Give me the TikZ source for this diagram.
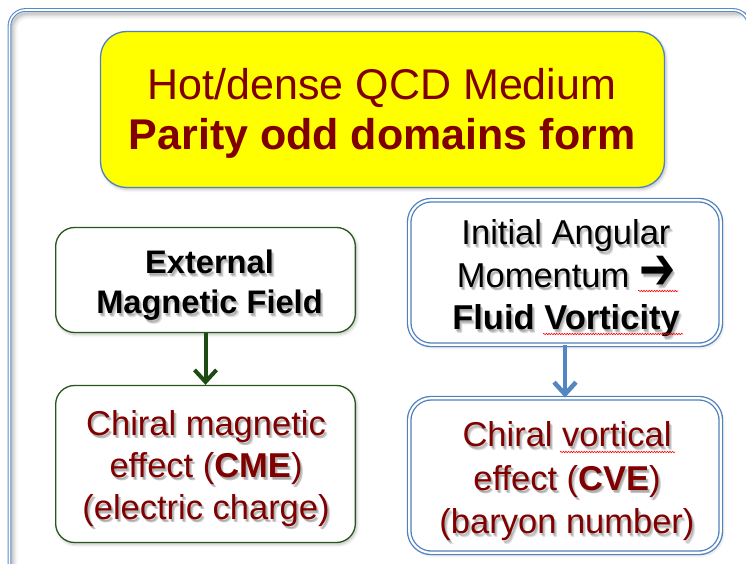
\documentclass[tikz,border=0pt]{standalone}
\usepackage{graphicx}
\usepackage{fontspec}
\setmainfont{Liberation Sans}
\newfontfamily\djv{DejaVu Sans}
\usetikzlibrary{arrows.meta,shadows.blur,decorations.pathmorphing}
\definecolor{qred}{RGB}{128,0,0}
\definecolor{qyellow}{RGB}{255,255,0}
\definecolor{frameblue}{RGB}{90,138,198}
\definecolor{boxblue}{RGB}{79,129,189}
\definecolor{qgreen}{RGB}{40,86,28}
\definecolor{arrgreen}{RGB}{30,74,20}
\definecolor{arrblue}{RGB}{84,134,196}
\newcommand{\heavyarrow}{{\djv\bfseries\raisebox{-2.5pt}{\scalebox{1.25}[1.75]{➔}}}}
\newcommand{\softshadowtext}[4]{%
  \foreach \dx/\dy [count=\k] in {1.2/1.8, 2/2.6, 2.8/3.4}{%
    \node[#3, text=black, opacity=0.12] (shd-\k) at ([shift={(\dx,\dy)}]#1,#2) {#4};}%
}
\begin{document}
\begin{tikzpicture}[x=1pt,y=-1pt,
  boxshadow/.style={blur shadow={shadow xshift=1.5pt, shadow yshift=-2pt, shadow blur steps=6, shadow blur radius=3pt, shadow opacity=25}},
  yellowbox/.style={rectangle, draw=boxblue, fill=qyellow, line width=1.3pt, rounded corners=26pt, minimum width=564pt, minimum height=156pt, inner sep=0pt, boxshadow},
  greenbox/.style={rectangle, draw=qgreen, fill=white, line width=1.3pt, rounded corners=19pt, minimum width=299.7pt, inner sep=0pt, boxshadow},
  bluebox/.style={rectangle, draw=boxblue, double=white, double distance=2.2pt, fill=white, line width=1.3pt, rounded corners=22pt, minimum width=311.6pt, inner sep=0pt, boxshadow},
  ytxt/.style={align=center, inner sep=0pt, font=\fontsize{43}{50.7}\selectfont, text=qred},
  blacktxt/.style={align=center, inner sep=0pt, font=\fontsize{32.6}{40}\selectfont\bfseries, text=black},
  rtxt/.style={align=center, inner sep=0pt, font=\fontsize{34.5}{#1}\selectfont, text=qred},
  ktxt/.style={align=center, inner sep=0pt, font=\fontsize{34.5}{42.5}\selectfont, text=black},
  greenarrow/.style={arrgreen, line width=4pt, -{Straight Barb[length=12pt,width=22pt]}},
  bluearrow/.style={arrblue, line width=4.5pt, -{Straight Barb[length=12pt,width=22pt]}},
  spell/.style={red, line width=0.6pt, decorate, decoration={snake, amplitude=0.7pt, segment length=2.6pt}}
]
\useasboundingbox (0,0) rectangle (746,564);
% outer frame with inner shadow
\begin{scope}
  \clip[rounded corners=15pt] (11,11.5) rectangle (760,620);
  \foreach \w/\o in {11/0.035, 8/0.045, 5/0.06, 2.5/0.08}
    \draw[line width=\w pt, black, opacity=\o, rounded corners=15pt] (12,13.5) rectangle (762,622);
\end{scope}
\draw[frameblue, line width=1.1pt, double=white, double distance=1.6pt, rounded corners=16pt] (9.5,10) rectangle (749,620);

% boxes
\node[yellowbox] (qcd) at (382.5,109.5) {};
\node[greenbox, minimum height=105pt] (lt) at (205.5,280) {};
\node[greenbox, minimum height=157pt] (lb) at (205.5,464) {};
\node[bluebox, minimum height=144.6pt] (rt) at (565,272.5) {};
\node[bluebox, minimum height=154.6pt] (rb) at (565,475.5) {};

% connectors
\draw[greenarrow] (lt.south) -- (lb.north);
\draw[bluearrow] (rt.south) -- (rb.north);

% texts
\node[ytxt] (qcdt) at (382,113.5) {Hot/dense QCD Medium\\\textbf{Parity odd domains form}};

\softshadowtext{209.5}{285.5}{blacktxt}{External\\Magnetic Field}
\node[blacktxt] (ltt) at (209.5,285.5) {External\\Magnetic Field};

\softshadowtext{566}{278.5}{ktxt}{Initial Angular\\Momentum \heavyarrow\\\textbf{Fluid Vorticity}}
\node[ktxt] (rtt) at (566,278.5) {Initial Angular\\Momentum \heavyarrow\\\textbf{Fluid Vorticity}};

\softshadowtext{206}{468.5}{rtxt=42}{Chiral magnetic\\effect (\textbf{CME})\\(electric charge)}
\node[rtxt=42] (lbt) at (206,468.5) {Chiral magnetic\\effect (\textbf{CME})\\(electric charge)};

\softshadowtext{567}{481.5}{rtxt=43.5}{Chiral vortical\\effect (\textbf{CVE})\\(baryon number)}
\node[rtxt=43.5] (rbt) at (567,481.5) {Chiral vortical\\effect (\textbf{CVE})\\(baryon number)};

% spell-check underlines
\draw[spell] (638,291) -- (678,291);
\draw[spell] (543,334) -- (683,334);
\draw[spell] (560,452) -- (675,452);
\end{tikzpicture}
\end{document}
